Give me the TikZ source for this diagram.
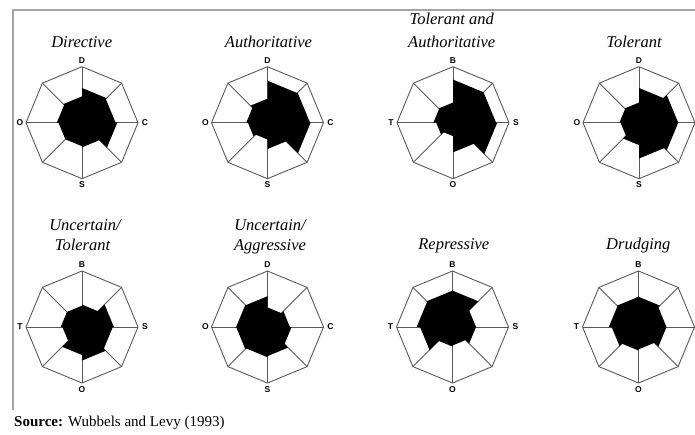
\documentclass[tikz,border=0pt]{standalone}
\usepackage{fontspec}
\setmainfont{Liberation Serif}
\newfontfamily\lblfont{Liberation Sans}
\tikzset{
  octo/.style={draw={rgb,255:red,90;green,90;blue,90}, line width=0.9pt, line join=round},
  frameline/.style={draw={rgb,255:red,165;green,165;blue,165}, line width=1.4pt},
  ttl/.style={font=\fontsize{16.5}{18}\selectfont\itshape, anchor=base, inner sep=0pt},
  axl/.style={font=\lblfont\bfseries\fontsize{8.5}{9}\selectfont, inner sep=0pt},
  src/.style={font=\fontsize{15}{17}\selectfont, anchor=base west, inner sep=0pt}
}
% #1 name, #2 x, #3 y, #4 radii list, #5 top, #6 right, #7 bottom, #8 left
\newcommand\profilechart[8]{%
  \begin{scope}[shift={(#2,#3)}]
    \coordinate (#1-c) at (0,0);
    \foreach \r [count=\k from 0] in {#4} {
      \coordinate (#1-a\k) at ({90-45*\k}:{\r*56});
      \coordinate (#1-b\k) at ({45-45*\k}:{\r*56});
    }
    \foreach \k in {0,...,7} \coordinate (#1-v\k) at ({90-45*\k}:56);
    \foreach \k in {0,...,7} \draw[octo] (#1-c) -- (#1-v\k);
    \fill[black] (#1-a0) -- (#1-b0) \foreach \k in {1,...,7} { -- (#1-a\k) -- (#1-b\k) } -- cycle;
    \draw[octo] (#1-v0) \foreach \k in {1,...,7} { -- (#1-v\k) } -- cycle;
    \node[axl] (#1-lt) at (0,62.4) {#5};
    \node[axl] (#1-lr) at (63,0) {#6};
    \node[axl] (#1-lb) at (0,-62.3) {#7};
    \node[axl] (#1-ll) at (-62,0) {#8};
  \end{scope}}
\begin{document}
\begin{tikzpicture}[x=1pt,y=1pt]
\useasboundingbox (0,0) rectangle (695,-434);
\clip (0,0) rectangle (695,-434);
\fill[white] (0,0) rectangle (695,-434);
\coordinate (fr-top) at (695,-10);
\coordinate (fr-corner) at (13,-10);
\coordinate (fr-bottom) at (13,-410);
\draw[frameline] (fr-top) -- (fr-corner) -- (fr-bottom);

% row 1
\profilechart{p1}{82}{-122.7}{0.62,0.6,0.63,0.44,0.42,0.42,0.45,0.47}{D}{C}{S}{O}
\profilechart{p2}{267.5}{-122.7}{0.75,0.76,0.77,0.47,0.3,0.35,0.38,0.43}{D}{C}{S}{O}
\profilechart{p3}{453}{-122.7}{0.77,0.77,0.79,0.53,0.24,0.3,0.35,0.36}{B}{S}{O}{T}
\profilechart{p4}{639}{-122.7}{0.62,0.7,0.7,0.64,0.4,0.33,0.35,0.36}{D}{}{S}{O}
% row 2
\profilechart{p5}{82}{-327}{0.4,0.57,0.55,0.6,0.5,0.35,0.38,0.38}{B}{S}{O}{T}
\profilechart{p6}{267.5}{-327}{0.35,0.4,0.43,0.52,0.54,0.56,0.56,0.55}{D}{C}{S}{O}
\profilechart{p7}{452.5}{-327}{0.65,0.42,0.42,0.33,0.35,0.58,0.64,0.65}{B}{S}{O}{T}
\profilechart{p8}{638.5}{-327}{0.54,0.5,0.5,0.4,0.42,0.48,0.53,0.54}{B}{}{O}{T}

% titles
\node[ttl] (t1) at (81.7,-47) {Directive};
\node[ttl] (t2) at (268.5,-47) {Authoritative};
\node[ttl] (t3a) at (451.7,-24) {Tolerant and};
\node[ttl] (t3b) at (451.7,-47) {Authoritative};
\node[ttl] (t4) at (634,-47) {Tolerant};
\node[ttl] (t5a) at (85,-230.5) {Uncertain/};
\node[ttl] (t5b) at (82.5,-250) {Tolerant};
\node[ttl] (t6a) at (270,-230.5) {Uncertain/};
\node[ttl] (t6b) at (270,-250) {Aggressive};
\node[ttl] (t7) at (453.8,-249.5) {Repressive};
\node[ttl] (t8) at (638.3,-249.5) {Drudging};

\node[src] (source) at (14,-426) {\textbf{Source:} Wubbels and Levy (1993)};
\end{tikzpicture}
\end{document}
